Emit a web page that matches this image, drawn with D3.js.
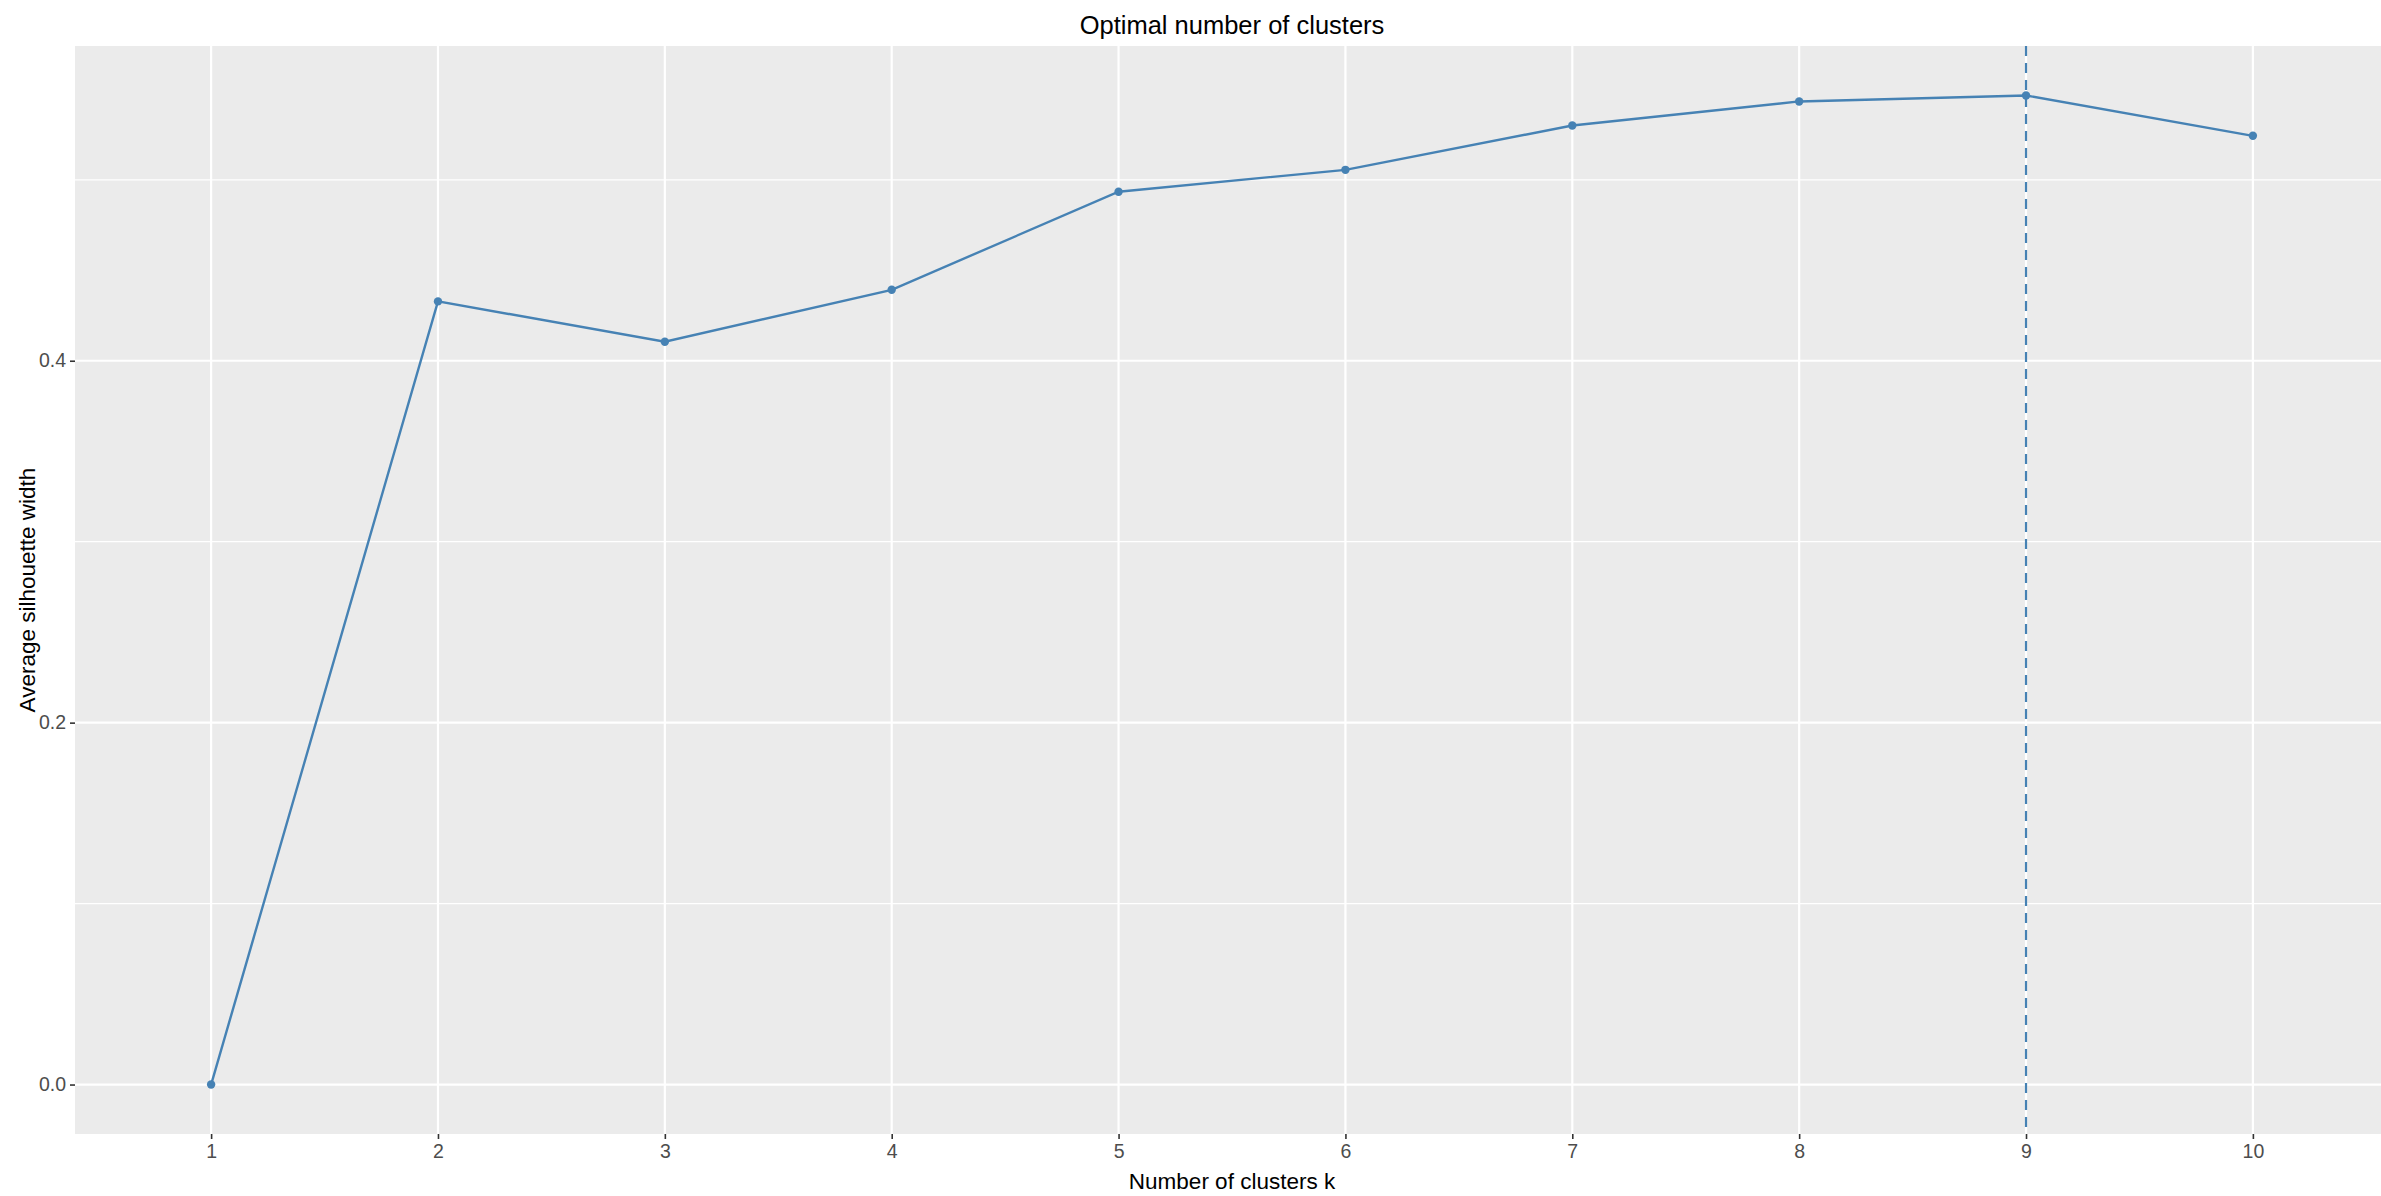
<!DOCTYPE html>
<html>
<head>
<meta charset="utf-8">
<script src="https://cdn.jsdelivr.net/npm/d3@7"></script>
<style>
  body { margin: 0; background: #fff; }
  svg text { font-family: "Liberation Sans", Arial, sans-serif; }
  .axis path { display: none; }
  .axis line { stroke: #333333; stroke-width: 1.6; }
  .axis text { fill: #4d4d4d; font-size: 19.5px; }
</style>
</head>
<body>
<svg id="chart"></svg>
<script>
// number of clusters k and average silhouette width
var clusters = [1, 2, 3, 4, 5, 6, 7, 8, 9, 10];
var silhouette = [0, 0.4328, 0.4105, 0.4392, 0.4934, 0.5055, 0.5300, 0.5433, 0.5466, 0.5243];
var yMajorTicks = [0, 0.2, 0.4];
var yMinorTicks = [0.1, 0.3, 0.5];
var bestK = 9;

var svg_width = 2381,
    svg_height = 1196,
    margin = {top: 46, left: 75, bottom: 62},
    width = 2389 - margin.left,          // panel runs a bit past the right edge
    height = svg_height - margin.top - margin.bottom;

var svg = d3.select("#chart")
    .attr("width", svg_width)
    .attr("height", svg_height);

var g = svg.append("g")
    .attr("transform", "translate(" + margin.left + "," + margin.top + ")");

var maxVal = d3.max(silhouette);

var x = d3.scalePoint()
    .domain(clusters)
    .range([0, width])
    .padding(0.6);

var y = d3.scaleLinear()
    .domain([-0.05 * maxVal, 1.05 * maxVal])
    .range([height, 0]);

// grey panel
g.append("rect")
    .attr("width", width)
    .attr("height", height)
    .attr("fill", "#ebebeb");

// grid lines, minor first
g.selectAll(".minor")
    .data(yMinorTicks)
    .enter().append("line")
    .attr("x1", 0).attr("x2", width)
    .attr("y1", function(d) { return y(d); })
    .attr("y2", function(d) { return y(d); })
    .attr("stroke", "#fff")
    .attr("stroke-width", 1.2);

g.selectAll(".major")
    .data(yMajorTicks)
    .enter().append("line")
    .attr("x1", 0).attr("x2", width)
    .attr("y1", function(d) { return y(d); })
    .attr("y2", function(d) { return y(d); })
    .attr("stroke", "#fff")
    .attr("stroke-width", 2.2);

g.selectAll(".xgrid")
    .data(clusters)
    .enter().append("line")
    .attr("x1", function(d) { return x(d); })
    .attr("x2", function(d) { return x(d); })
    .attr("y1", 0).attr("y2", height)
    .attr("stroke", "#fff")
    .attr("stroke-width", 2.2);

// axes
g.append("g")
    .attr("class", "axis axis--x")
    .attr("transform", "translate(0," + height + ")")
    .call(d3.axisBottom(x).tickSize(5).tickPadding(5));

g.append("g")
    .attr("class", "axis axis--y")
    .call(d3.axisLeft(y).tickValues(yMajorTicks).tickFormat(d3.format(".1f")).tickSize(5).tickPadding(4));

// optimal k marker
g.append("line")
    .attr("x1", x(bestK)).attr("x2", x(bestK))
    .attr("y1", 0).attr("y2", height)
    .attr("stroke", "steelblue")
    .attr("stroke-width", 2.2)
    .attr("stroke-dasharray", "10,7");

var line = d3.line()
    .x(function(d, i) { return x(clusters[i]); })
    .y(function(d) { return y(d); });

g.append("path")
    .datum(silhouette)
    .attr("d", line)
    .attr("fill", "none")
    .attr("stroke", "steelblue")
    .attr("stroke-width", 2.4);

g.selectAll(".pt")
    .data(silhouette)
    .enter().append("circle")
    .attr("cx", function(d, i) { return x(clusters[i]); })
    .attr("cy", function(d) { return y(d); })
    .attr("r", 4.2)
    .attr("fill", "steelblue");

// titles
g.append("text")
    .attr("text-anchor", "middle")
    .attr("x", width / 2)
    .attr("y", -12)
    .attr("font-size", "25.5px")
    .text("Optimal number of clusters");

g.append("text")
    .attr("text-anchor", "middle")
    .attr("x", width / 2)
    .attr("y", height + 55)
    .attr("font-size", "22.5px")
    .text("Number of clusters k");

g.append("text")
    .attr("text-anchor", "middle")
    .attr("transform", "translate(" + (35 - margin.left) + "," + (height / 2) + ")rotate(-90)")
    .attr("font-size", "22.5px")
    .text("Average silhouette width");
</script>
</body>
</html>
